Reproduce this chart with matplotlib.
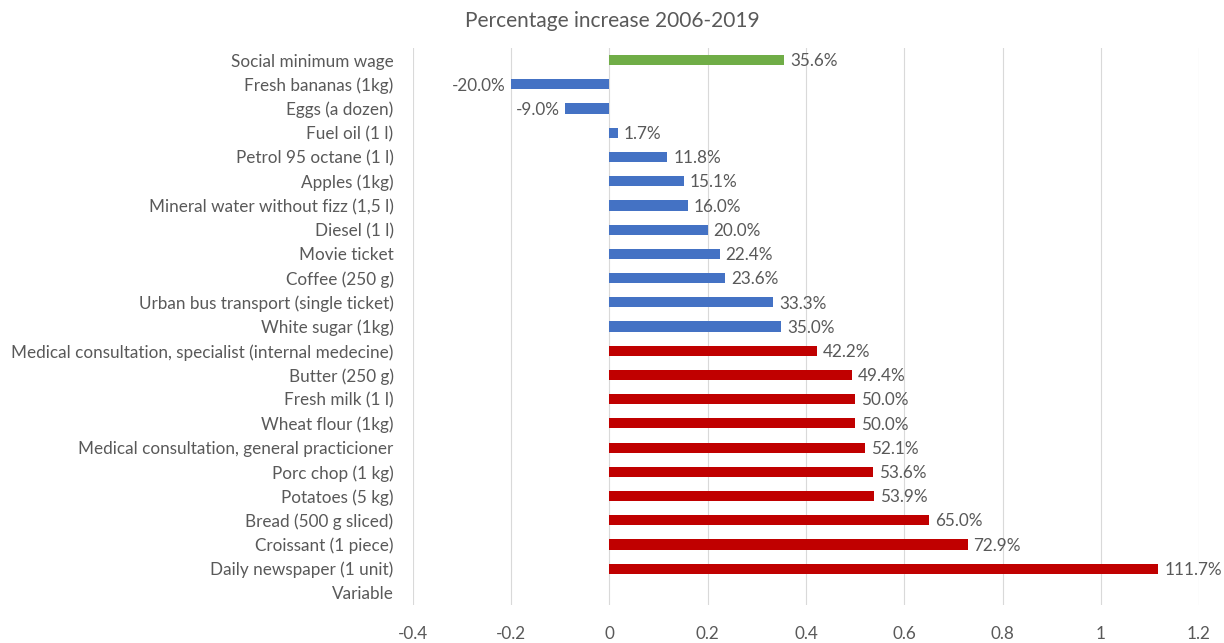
import matplotlib.pyplot as plt
import numpy as np

# categories listed top to bottom, as in the chart
items = ['Social minimum wage', 'Fresh bananas (1kg)', 'Eggs (a dozen)', 'Fuel oil (1 l)',
         'Petrol 95 octane (1 l)', 'Apples (1kg)', 'Mineral water without fizz (1,5 l)',
         'Diesel (1 l)', 'Movie ticket', 'Coffee (250 g)', 'Urban bus transport (single ticket)',
         'White sugar (1kg)', 'Medical consultation, specialist (internal medecine)',
         'Butter (250 g)', 'Fresh milk (1 l)', 'Wheat flour (1kg)',
         'Medical consultation, general practicioner', 'Porc chop (1 kg)', 'Potatoes (5 kg)',
         'Bread (500 g sliced)', 'Croissant (1 piece)', 'Daily newspaper (1 unit)', 'Variable']
increase = [0.356, -0.200, -0.090, 0.017, 0.118, 0.151, 0.160, 0.200, 0.224, 0.236, 0.333,
            0.350, 0.422, 0.494, 0.500, 0.500, 0.521, 0.536, 0.539, 0.650, 0.729, 1.117, np.nan]
group = ['wage'] + ['low'] * 11 + ['high'] * 10 + [None]
colours = {'wage': '#70AD47', 'low': '#4472C4', 'high': '#C00000', None: 'none'}
xticks = [-0.4, -0.2, 0, 0.2, 0.4, 0.6, 0.8, 1, 1.2]

plt.rcParams['font.family'] = ['Lato', 'DejaVu Sans']
grey = '#595959'
fs = 12.3

fig = plt.figure(figsize=(12.24, 6.43), dpi=100)
ax = fig.add_axes([0.3374, 0.0591, 0.6422, 0.8662])

n = len(items)
ypos = np.arange(n)[::-1]
vals = np.nan_to_num(increase)
ax.barh(ypos, vals, height=0.42, color=[colours[g] for g in group], zorder=3)

for y, v in zip(ypos, increase):
    if np.isnan(v):
        continue
    lab = f'{v * 100:.1f}%'
    if v >= 0:
        ax.text(v + 0.012, y - 0.05, lab, ha='left', va='center', fontsize=fs, color=grey)
    else:
        ax.text(v - 0.012, y - 0.05, lab, ha='right', va='center', fontsize=fs, color=grey)

ax.set_xlim(-0.4, 1.2)
ax.set_ylim(-0.5, n - 0.5)
ax.set_xticks(xticks)
ax.set_xticklabels([f'{t:g}' for t in xticks])
ax.set_yticks(ypos)
ax.set_yticklabels(items)
ax.tick_params(length=0, colors=grey, labelsize=fs)
ax.tick_params(axis='x', pad=15)
ax.tick_params(axis='y', pad=14)
ax.xaxis.grid(True, color='#D9D9D9', linewidth=0.8, zorder=0)
for s in ax.spines.values():
    s.set_visible(False)

fig.text(0.5, 0.968, 'Percentage increase 2006-2019', ha='center', va='center',
         fontsize=15, color=grey)

fig.savefig('out.png', dpi=100)
